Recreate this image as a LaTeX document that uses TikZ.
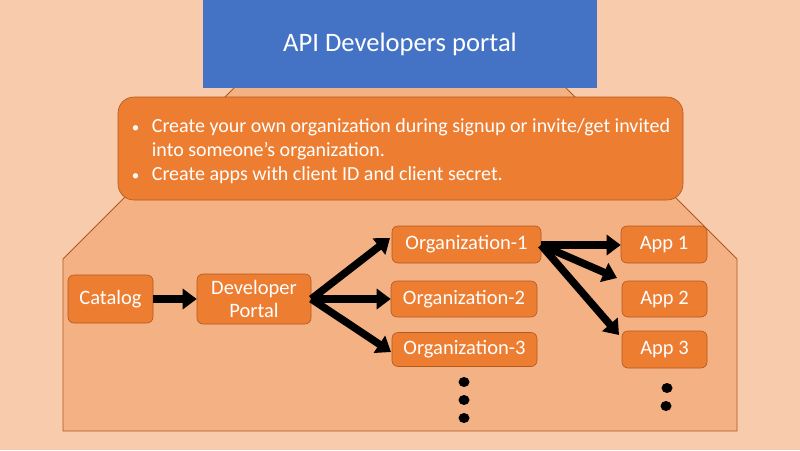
\documentclass[tikz,border=0pt]{standalone}
\usepackage{fontspec}
\setmainfont{Carlito}
\usetikzlibrary{arrows.meta,shapes.geometric}
\definecolor{bg}{HTML}{F8CBAD}
\definecolor{panel}{HTML}{F4B183}
\definecolor{orgfill}{HTML}{ED7D31}
\definecolor{edgec}{HTML}{AE5A21}
\definecolor{blu}{HTML}{4472C4}
\newcommand{\smallbul}{\makebox[21pt][l]{\hspace*{1pt}\raisebox{0.5pt}{\fontsize{15}{15}\selectfont\textbullet}}}
\begin{document}
\begin{tikzpicture}[x=1pt,y=-1pt,
  box/.style={draw=edgec, fill=orgfill, rounded corners=6pt, text=white,
    font=\fontsize{20.5}{23}\selectfont, align=center, inner sep=0pt, line width=0.6pt},
  fat/.style={line width=7.5pt, -{Triangle[length=14pt,width=20pt]}, draw=black},
  vdot/.style={ellipse, fill=black, inner sep=0pt, minimum width=11pt, minimum height=10pt}]
\fill[bg] (0,0) rectangle (800,450);
\useasboundingbox (0,0) rectangle (800,450);
% panel
\draw[fill=panel, draw=edgec, line width=0.8pt] (63,431) -- (63,259) -- (257,65) -- (543,65) -- (737,259) -- (737,431) -- cycle;
% title
\node[fill=blu, minimum width=394pt, minimum height=88pt, inner sep=0pt, text=white,
  font=\fontsize{26.6}{30}\selectfont] (title) at (400,44) {API Developers portal};
% info box
\node[draw=edgec, fill=orgfill, rounded corners=16pt, line width=0.6pt,
  minimum width=565pt, minimum height=103pt, inner sep=0pt] (info) at (400.5,148.5) {};
\node[inner sep=0pt, text=white, align=left,
  font=\fontsize{20}{23.5}\selectfont] (infotext) at (400.5,151.5)
  {\smallbul Create your own organization during signup or invite/get invited\\
   \hspace*{21pt}into someone’s organization.\\[1pt]
   \smallbul Create apps with client ID and client secret.};
% nodes
\node[box, minimum width=85pt, minimum height=48pt] (cat) at (110.5,299) {Catalog};
\node[box, minimum width=114pt, minimum height=50pt] (dev) at (254,299) {Developer\\Portal};
\node[box, minimum width=149pt, minimum height=37pt] (o1) at (466.5,244.5) {Organization-1};
\node[box, minimum width=146pt, minimum height=36pt] (o2) at (464,299) {Organization-2};
\node[box, minimum width=145pt, minimum height=34pt] (o3) at (464.5,349.5) {Organization-3};
\node[box, minimum width=86pt, minimum height=37pt] (a1) at (664,244.5) {App 1};
\node[box, minimum width=85pt, minimum height=36pt] (a2) at (664.5,299) {App 2};
\node[box, minimum width=85pt, minimum height=37pt] (a3) at (664.5,349.5) {App 3};
% arrow end points
\coordinate (t1) at (390,238);
\coordinate (t3) at (391,352);
\coordinate (s1) at (541,245);
\coordinate (u2) at (617,278);
\coordinate (u3) at (619,335);
\draw[fat] (cat.east) -- (dev.west);
\draw[fat] (dev.east) -- (t1);
\draw[fat] (dev.east) -- (o2.west);
\draw[fat] (dev.east) -- (t3);
\draw[fat] (s1) -- (s1 -| a1.west);
\draw[fat] (s1) -- (u2);
\draw[fat] (s1) -- (u3);
% dots
\node[vdot] (d1) at (464,382) {};
\node[vdot] (d2) at (464,400) {};
\node[vdot] (d3) at (464,418) {};
\node[vdot] (d4) at (667,388) {};
\node[vdot] (d5) at (666,406) {};
\end{tikzpicture}
\end{document}
